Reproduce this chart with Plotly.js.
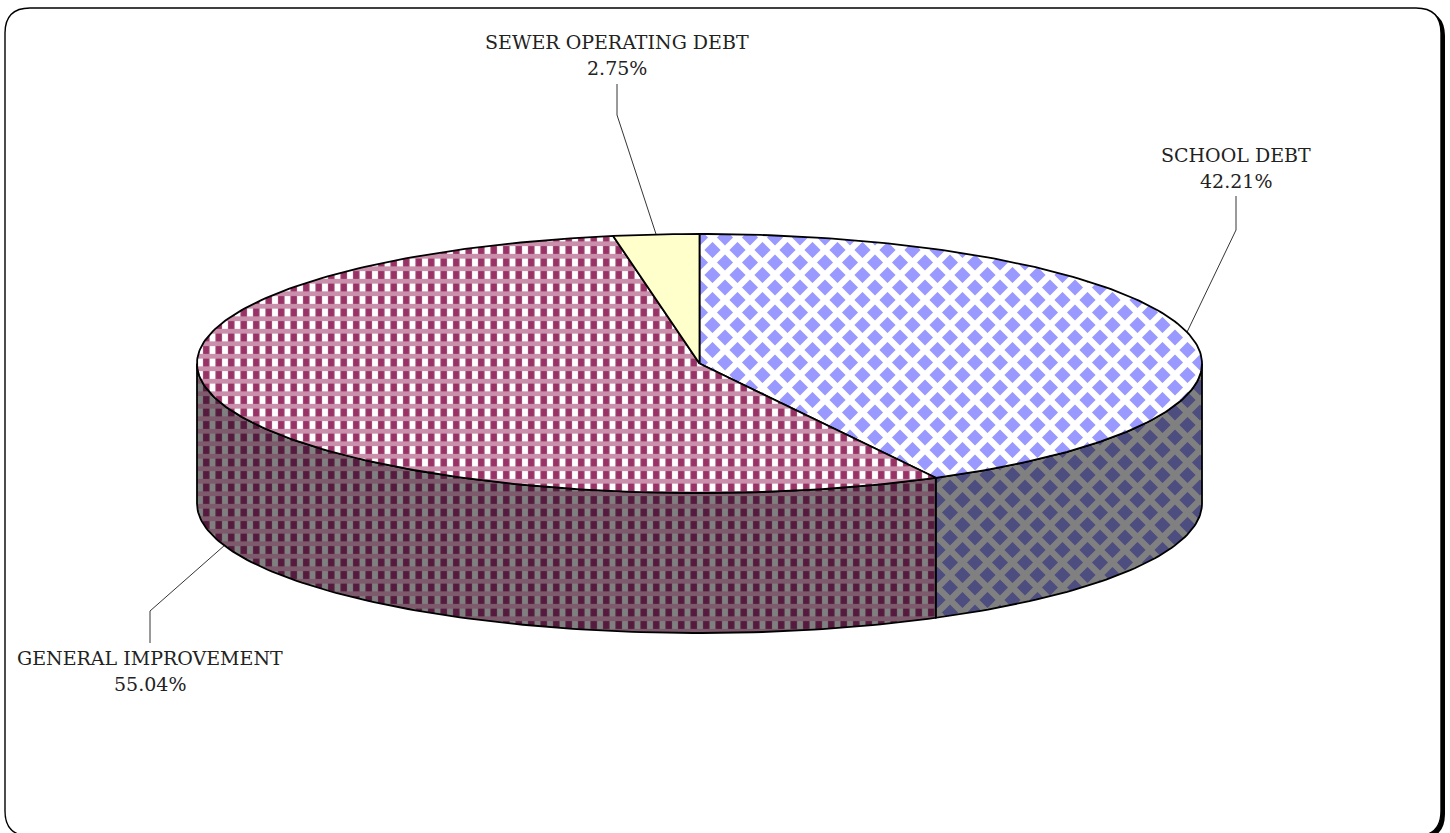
<!DOCTYPE html>
<html>
<head>
<meta charset="utf-8">
<script src="https://cdn.plot.ly/plotly-3.0.1.min.js"></script>
<style>html,body{margin:0;padding:0;background:#fff;overflow:hidden}#chart{width:1450px;height:833px}</style>
</head>
<body>
<div id="chart"></div>
<script>
// Data
const categories = ['SCHOOL DEBT', 'GENERAL IMPROVEMENT', 'SEWER OPERATING DEBT'];
const shares = [42.21, 55.04, 2.75];

// Pie geometry, in picture pixels
const CX = 699.5, CY = 363.5, RX = 502.5, RY = 129.5, DEPTH = 140;
const RAD = Math.PI / 180;
const px = a => CX + RX * Math.sin(a * RAD);
const py = (a, d) => CY - RY * Math.cos(a * RAD) + (d || 0);
function arc(a0, a1, d) {
  const n = Math.max(2, Math.ceil(Math.abs(a1 - a0)));
  const xs = [], ys = [];
  for (let i = 0; i <= n; i++) {
    const a = a0 + (a1 - a0) * i / n;
    xs.push(px(a)); ys.push(py(a, d));
  }
  return {x: xs, y: ys};
}
const total = shares.reduce((s, v) => s + v, 0);
let acc = 0;
const slices = shares.map(v => {
  const a0 = acc / total * 360; acc += v;
  return {a0, a1: acc / total * 360};
});

function topPath(s) {
  const c = arc(s.a0, s.a1, 0);
  return {x: [CX].concat(c.x, [CX]), y: [CY].concat(c.y, [CY])};
}
function wallPath(a0, a1) {
  const t = arc(a0, a1, 0), b = arc(a1, a0, DEPTH);
  return {x: t.x.concat(b.x, [t.x[0]]), y: t.y.concat(b.y, [t.y[0]])};
}
function fillTrace(p, bg, pattern) {
  const tr = {type: 'scatter', mode: 'lines', x: p.x, y: p.y, fill: 'toself',
    fillcolor: bg, line: {width: 0, color: 'rgba(0,0,0,0)'}, hoverinfo: 'skip', showlegend: false};
  if (pattern) tr.fillpattern = pattern;
  return tr;
}
function outline(p) {
  return {type: 'scatter', mode: 'lines', x: p.x, y: p.y,
    line: {color: '#000', width: 1.8}, hoverinfo: 'skip', showlegend: false};
}
const PERIOD = 12.5;
function plaid(p, base, bar, band) {
  return [
    fillTrace(p, base, {shape: '|', size: PERIOD, solidity: 0.52, fgcolor: bar, bgcolor: base, fillmode: 'replace'}),
    fillTrace(p, 'rgba(0,0,0,0)', {shape: '-', size: PERIOD, solidity: 0.38, fgcolor: band, bgcolor: 'rgba(0,0,0,0)', fillmode: 'replace'}),
    outline(p)
  ];
}
function diamonds(p, gap, dot) {
  return [
    fillTrace(p, dot, {shape: 'x', size: PERIOD * Math.SQRT2, solidity: 0.58, fgcolor: gap, bgcolor: dot, fillmode: 'replace'}),
    outline(p)
  ];
}

const [school, general, sewer] = slices;
const traces = [].concat(
  diamonds(wallPath(90, school.a1), '#808080', '#4d4d80'),
  plaid(wallPath(school.a1, 270), '#808080', '#551a3d', '#7d5a6c'),
  diamonds(topPath(school), '#ffffff', '#9999ff'),
  plaid(topPath(general), '#ffffff', '#993366', '#c98fab'),
  [fillTrace(topPath(sewer), '#ffffcc'), outline(topPath(sewer))]
);

// Leader lines run from each slice's mid angle to an elbow below or above its label
const elbows = [
  {ex: 1236, ey: 230, tx: 1236, ty: 196, depth: 0},
  {ex: 150, ey: 611, tx: 150, ty: 643, depth: DEPTH},
  {ex: 617, ey: 115, tx: 617, ty: 84, depth: 0}
];
slices.forEach((s, i) => {
  const m = (s.a0 + s.a1) / 2, e = elbows[i];
  traces.push({type: 'scatter', mode: 'lines',
    x: [px(m), e.ex, e.tx], y: [py(m, e.depth), e.ey, e.ty],
    line: {color: '#000', width: 0.8}, hoverinfo: 'skip', showlegend: false});
});

const labelPos = [{x: 1236, y: 168}, {x: 150, y: 671}, {x: 617, y: 55}];
const LINE_GAP = 13;
const labelFont = {family: '"DejaVu Serif", serif', size: 19, color: '#222'};
const annotations = [];
categories.forEach((c, i) => {
  annotations.push({x: labelPos[i].x, y: labelPos[i].y - LINE_GAP, xref: 'x', yref: 'y', showarrow: false, text: c, font: labelFont});
  annotations.push({x: labelPos[i].x, y: labelPos[i].y + LINE_GAP, xref: 'x', yref: 'y', showarrow: false, text: shares[i].toFixed(2) + '%', font: labelFont});
});

const FRAME = 'M 5 33 Q 5 8 30 8 L 1416 8 Q 1441 8 1441 33 L 1441 811 Q 1441 836 1416 836 L 30 836 Q 5 836 5 811 Z';
const SHADOW = 'M 9 36 Q 9 11 34 11 L 1420 11 Q 1445 11 1445 36 L 1445 814 Q 1445 839 1420 839 L 34 839 Q 9 839 9 814 Z';
const layout = {
  width: 1450, height: 833, margin: {l: 0, r: 0, t: 0, b: 0, pad: 0},
  paper_bgcolor: '#fff', plot_bgcolor: 'rgba(0,0,0,0)', showlegend: false,
  xaxis: {range: [0, 1450], visible: false, fixedrange: true},
  yaxis: {range: [833, 0], visible: false, fixedrange: true},
  annotations,
  shapes: [
    {type: 'path', path: SHADOW, xref: 'x', yref: 'y', fillcolor: '#000', line: {width: 0}, layer: 'below'},
    {type: 'path', path: FRAME, xref: 'x', yref: 'y', fillcolor: '#fff', line: {color: '#000', width: 1.4}, layer: 'below'}
  ]
};
Plotly.newPlot('chart', traces, layout, {displayModeBar: false, staticPlot: true});
</script>
</body>
</html>
